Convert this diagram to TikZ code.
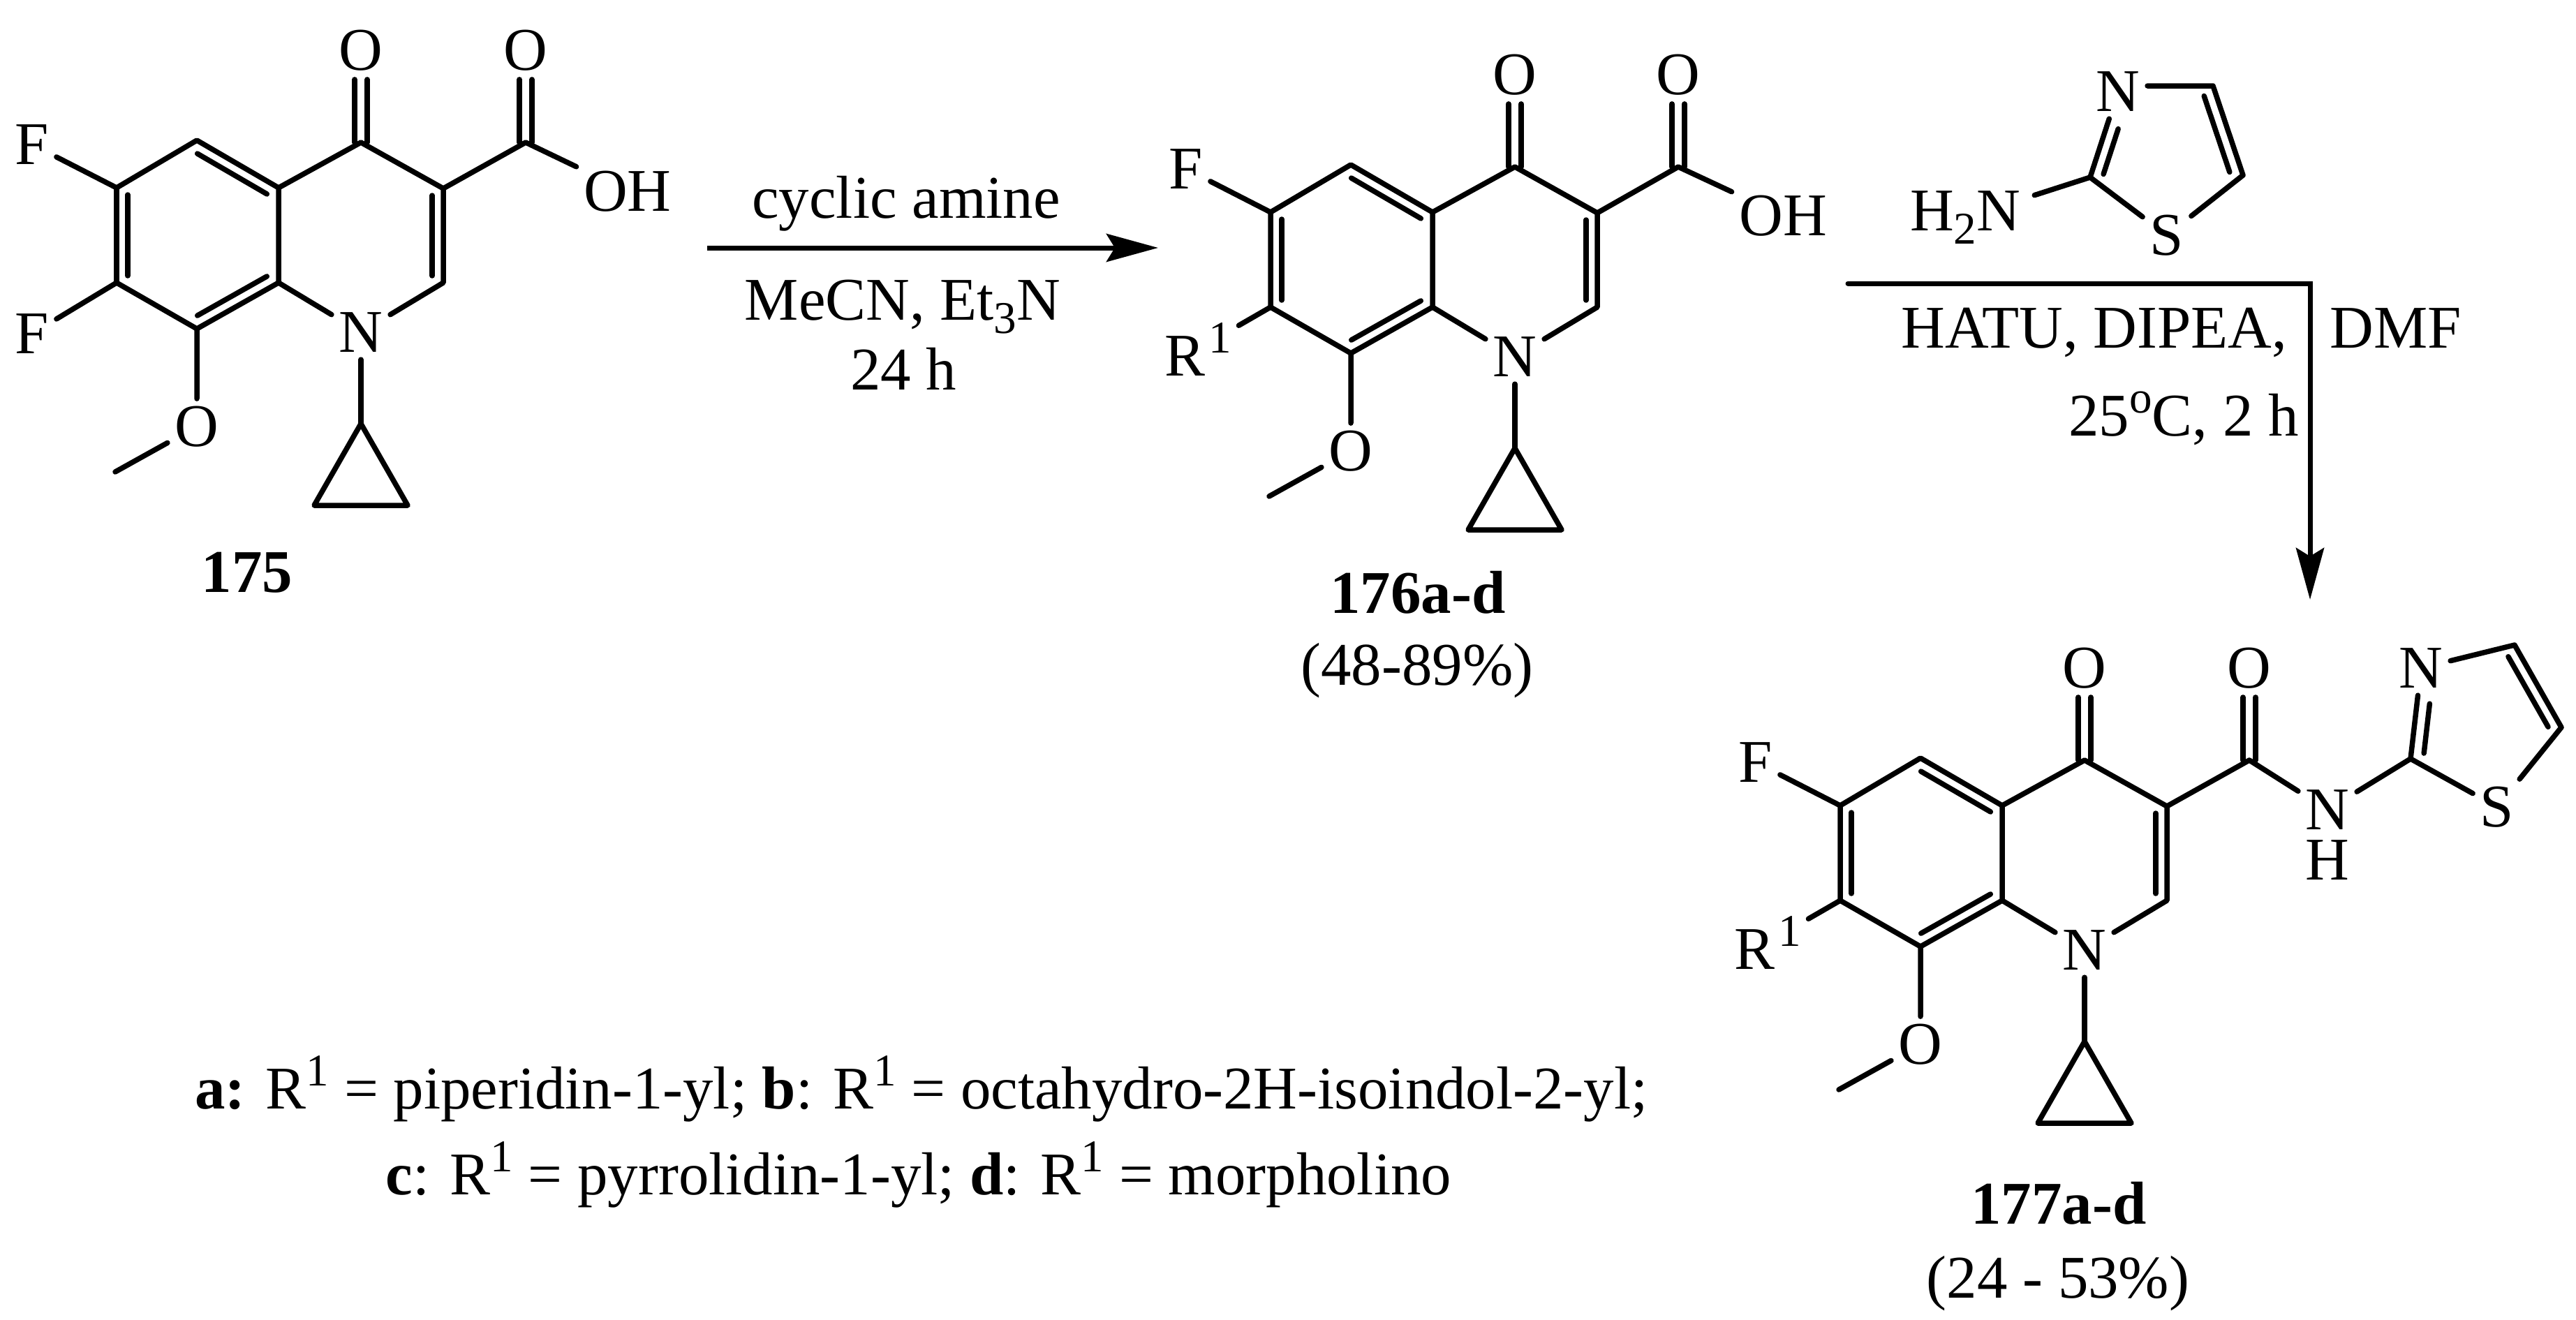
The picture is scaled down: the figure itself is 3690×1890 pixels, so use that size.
\documentclass[tikz,border=0pt]{standalone}
\usepackage{fontspec}
\setmainfont{Liberation Serif}
\usepackage{tikz}
\usetikzlibrary{arrows.meta}
\newcommand{\supr}[1]{\raisebox{0.38em}{\fontsize{18.5}{20}\selectfont #1}}
\newcommand{\subr}[1]{\raisebox{-0.23em}{\fontsize{18.5}{20}\selectfont #1}}

\begin{document}
\begin{tikzpicture}[
    x=0.01cm, y=-0.01cm,
    every node/.style={font=\fontsize{24.7}{30}\selectfont},
    atom/.style={inner sep=1mm},
    caption/.style={inner sep=0pt, anchor=base},
    compound/.style={inner sep=0pt, anchor=base, font=\fontsize{24.7}{30}\selectfont\bfseries},
    bond/.style={line width=0.75mm, line cap=round, line join=round},
    inbond/.style={bond, shorten <=1mm, shorten >=1mm, transform canvas={shift={#1}}},
    dblbond/.style={bond, transform canvas={shift={#1}}},
    rxnarrow/.style={line width=0.7mm, -{Stealth[length=7.4mm, width=4mm, inset=1.2mm]}}
]
    \path[fill=white, use as bounding box] (0,0) rectangle (3690,1890);

    % Compound 175
    \coordinate (sC6) at (167,269);
    \coordinate (sC5) at (282,201);
    \coordinate (sC4a) at (399,269);
    \coordinate (sC8a) at (399,405);
    \coordinate (sC8) at (282,471);
    \coordinate (sC7) at (167,405);
    \coordinate (sC4) at (517,204);
    \coordinate (sC3) at (635,270);
    \coordinate (sC2) at (635,405);
    \coordinate (sCa) at (753,204);
    \coordinate (sMe) at (165,676);
    \coordinate (sCp) at (517,607);
    \coordinate (sCpl) at (450,724);
    \coordinate (sCpr) at (584,724);
    \node[atom] (sN) at (517,476) {N};
    \node[atom, inner sep=1.2mm] (sO4) at (517,72) {O};
    \node[atom, inner sep=1.2mm] (sOa) at (753,72) {O};
    \node[atom] (sOH) at (899,274) {OH};
    \node[atom] (sF6) at (46,207) {F};
    \node[atom] (sF7) at (46,478) {F};
    \node[atom] (sOMe) at (282,611) {O};
    \draw[bond] (sC6) -- (sC5) -- (sC4a) -- (sC8a) -- (sC8) -- (sC7) -- cycle;
    \draw[inbond={(16,0)}] (sC6) -- (sC7);
    \draw[inbond={(-8,14)}] (sC5) -- (sC4a);
    \draw[inbond={(-8,-14)}] (sC8a) -- (sC8);
    \draw[bond] (sC4a) -- (sC4) -- (sC3) -- (sC2) -- (sN) -- (sC8a);
    \draw[inbond={(-16,0)}] (sC3) -- (sC2);
    \draw[dblbond={(-9,0)}] (sC4) -- (sO4);
    \draw[dblbond={(9,0)}] (sC4) -- (sO4);
    \draw[bond] (sC3) -- (sCa) -- (sOH);
    \draw[dblbond={(-9,0)}] (sCa) -- (sOa);
    \draw[dblbond={(9,0)}] (sCa) -- (sOa);
    \draw[bond] (sC6) -- (sF6);
    \draw[bond] (sC7) -- (sF7);
    \draw[bond] (sC8) -- (sOMe) -- (sMe);
    \draw[bond] (sN) -- (sCp);
    \draw[bond] (sCp) -- (sCpl) -- (sCpr) -- cycle;
    \node[compound] (sName) at (354,848) {175};

    % First reaction arrow
    \coordinate (rxnAa) at (1013,355);
    \coordinate (rxnAb) at (1659,355);
    \draw[rxnarrow] (rxnAa) -- (rxnAb);
    \node[caption] (rxnAtop) at (1298,312) {cyclic amine};
    \node[caption] (rxnAmid) at (1293,458) {MeCN, Et\subr{3}N};
    \node[caption] (rxnAlow) at (1294,558) {24 h};

    % Compound 176
    \coordinate (mC6) at (1820,304);
    \coordinate (mC5) at (1935,236);
    \coordinate (mC4a) at (2052,304);
    \coordinate (mC8a) at (2052,440);
    \coordinate (mC8) at (1935,506);
    \coordinate (mC7) at (1820,440);
    \coordinate (mC4) at (2170,239);
    \coordinate (mC3) at (2288,305);
    \coordinate (mC2) at (2288,440);
    \coordinate (mCa) at (2404,239);
    \coordinate (mMe) at (1818,711);
    \coordinate (mCp) at (2170,642);
    \coordinate (mCpl) at (2103,759);
    \coordinate (mCpr) at (2237,759);
    \node[atom] (mN) at (2170,511) {N};
    \node[atom, inner sep=1.2mm] (mO4) at (2170,107) {O};
    \node[atom, inner sep=1.2mm] (mOa) at (2404,107) {O};
    \node[atom] (mOH) at (2554,309) {OH};
    \node[atom] (mF6) at (1699,242) {F};
    \node[atom, anchor=base] (mR) at (1716,538) {R\hspace{0.5mm}\supr{1}};
    \node[atom] (mOMe) at (1935,646) {O};
    \draw[bond] (mC6) -- (mC5) -- (mC4a) -- (mC8a) -- (mC8) -- (mC7) -- cycle;
    \draw[inbond={(16,0)}] (mC6) -- (mC7);
    \draw[inbond={(-8,14)}] (mC5) -- (mC4a);
    \draw[inbond={(-8,-14)}] (mC8a) -- (mC8);
    \draw[bond] (mC4a) -- (mC4) -- (mC3) -- (mC2) -- (mN) -- (mC8a);
    \draw[inbond={(-16,0)}] (mC3) -- (mC2);
    \draw[dblbond={(-9,0)}] (mC4) -- (mO4);
    \draw[dblbond={(9,0)}] (mC4) -- (mO4);
    \draw[bond] (mC3) -- (mCa) -- (mOH);
    \draw[dblbond={(-9,0)}] (mCa) -- (mOa);
    \draw[dblbond={(9,0)}] (mCa) -- (mOa);
    \draw[bond] (mC6) -- (mF6);
    \draw[bond] (mC7) -- (mR);
    \draw[bond] (mC8) -- (mOMe) -- (mMe);
    \draw[bond] (mN) -- (mCp);
    \draw[bond] (mCp) -- (mCpl) -- (mCpr) -- cycle;
    \node[compound] (mName) at (2031,878) {176a-d};
    \node[caption] (mYield) at (2030,981) {(48-89\%)};

    % Aminothiazole reagent
    \coordinate (rC5) at (3170,123);
    \coordinate (rC4) at (3213,251);
    \coordinate (rC2) at (2994,254);
    \node[atom] (rN) at (3034,131) {N};
    \node[atom] (rS) at (3104,337) {S};
    \node[atom, anchor=base] (rAmine) at (2815,330) {H\subr{2}N};
    \draw[bond] (rN.east |- rC5) -- (rC5) -- (rC4) -- (rS) -- (rC2);
    \draw[bond] (rC2) -- (rN);
    \draw[inbond={(16,5)}] (rC2) -- (rN);
    \draw[inbond={(-16,5)}] (rC5) -- (rC4);
    \draw[bond, shorten >=1mm] (rC2) -- (rAmine);

    % Second reaction arrow
    \coordinate (rxnBa) at (2647,406);
    \coordinate (rxnBb) at (3309,406);
    \coordinate (rxnBc) at (3309,859);
    \draw[rxnarrow, line cap=round] (rxnBa) -- (rxnBb) -- (rxnBc);
    \node[caption] (rxnBtop) at (3125,498) {HATU, DIPEA, \hspace{4mm}DMF};
    \node[caption] (rxnBlow) at (3128,624) {25\supr{o}C, 2 h};

    % Compound 177
    \coordinate (fC6) at (2636,1154);
    \coordinate (fC5) at (2751,1086);
    \coordinate (fC4a) at (2868,1154);
    \coordinate (fC8a) at (2868,1290);
    \coordinate (fC8) at (2751,1356);
    \coordinate (fC7) at (2636,1290);
    \coordinate (fC4) at (2986,1089);
    \coordinate (fC3) at (3104,1155);
    \coordinate (fC2) at (3104,1290);
    \coordinate (fCa) at (3222,1089);
    \coordinate (fMe) at (2634,1561);
    \coordinate (fCp) at (2986,1492);
    \coordinate (fCpl) at (2919,1609);
    \coordinate (fCpr) at (3053,1609);
    \coordinate (fTz2) at (3453,1087);
    \coordinate (fTz5) at (3602,924);
    \coordinate (fTz4) at (3669,1042);
    \node[atom] (fN) at (2986,1361) {N};
    \node[atom, inner sep=1.2mm] (fO4) at (2986,957) {O};
    \node[atom, inner sep=1.2mm] (fOa) at (3222,957) {O};
    \node[atom] (fF6) at (2515,1092) {F};
    \node[atom, anchor=base] (fR) at (2532,1388) {R\hspace{0.5mm}\supr{1}};
    \node[atom] (fOMe) at (2751,1496) {O};
    \node[atom] (fNH) at (3334,1160) {N};
    \node[inner sep=0pt] (fH) at (3334,1232) {H};
    \node[atom] (fTzN) at (3468,957) {N};
    \node[atom] (fTzS) at (3577,1156) {S};
    \draw[bond] (fC6) -- (fC5) -- (fC4a) -- (fC8a) -- (fC8) -- (fC7) -- cycle;
    \draw[inbond={(16,0)}] (fC6) -- (fC7);
    \draw[inbond={(-8,14)}] (fC5) -- (fC4a);
    \draw[inbond={(-8,-14)}] (fC8a) -- (fC8);
    \draw[bond] (fC4a) -- (fC4) -- (fC3) -- (fC2) -- (fN) -- (fC8a);
    \draw[inbond={(-16,0)}] (fC3) -- (fC2);
    \draw[dblbond={(-9,0)}] (fC4) -- (fO4);
    \draw[dblbond={(9,0)}] (fC4) -- (fO4);
    \draw[bond] (fC3) -- (fCa) -- (fNH) -- (fTz2) -- (fTzS) -- (fTz4) -- (fTz5) -- (fTzN) -- (fTz2);
    \draw[dblbond={(-9,0)}] (fCa) -- (fOa);
    \draw[dblbond={(9,0)}] (fCa) -- (fOa);
    \draw[inbond={(18,2)}] (fTz2) -- (fTzN);
    \draw[inbond={(-14,8)}] (fTz5) -- (fTz4);
    \draw[bond] (fC6) -- (fF6);
    \draw[bond] (fC7) -- (fR);
    \draw[bond] (fC8) -- (fOMe) -- (fMe);
    \draw[bond] (fN) -- (fCp);
    \draw[bond] (fCp) -- (fCpl) -- (fCpr) -- cycle;
    \node[compound] (fName) at (2949,1753) {177a-d};
    \node[caption] (fYield) at (2948,1859) {(24 - 53\%)};

    % Substituent legend
    \node[caption] (legendA) at (1320,1588) {\textbf{a:} R\supr{1} = piperidin-1-yl; \textbf{b}: R\supr{1} = octahydro-2H-isoindol-2-yl;};
    \node[caption] (legendB) at (1316,1711) {\textbf{c}: R\supr{1} = pyrrolidin-1-yl; \textbf{d}: R\supr{1} = morpholino};
\end{tikzpicture}
\end{document}
